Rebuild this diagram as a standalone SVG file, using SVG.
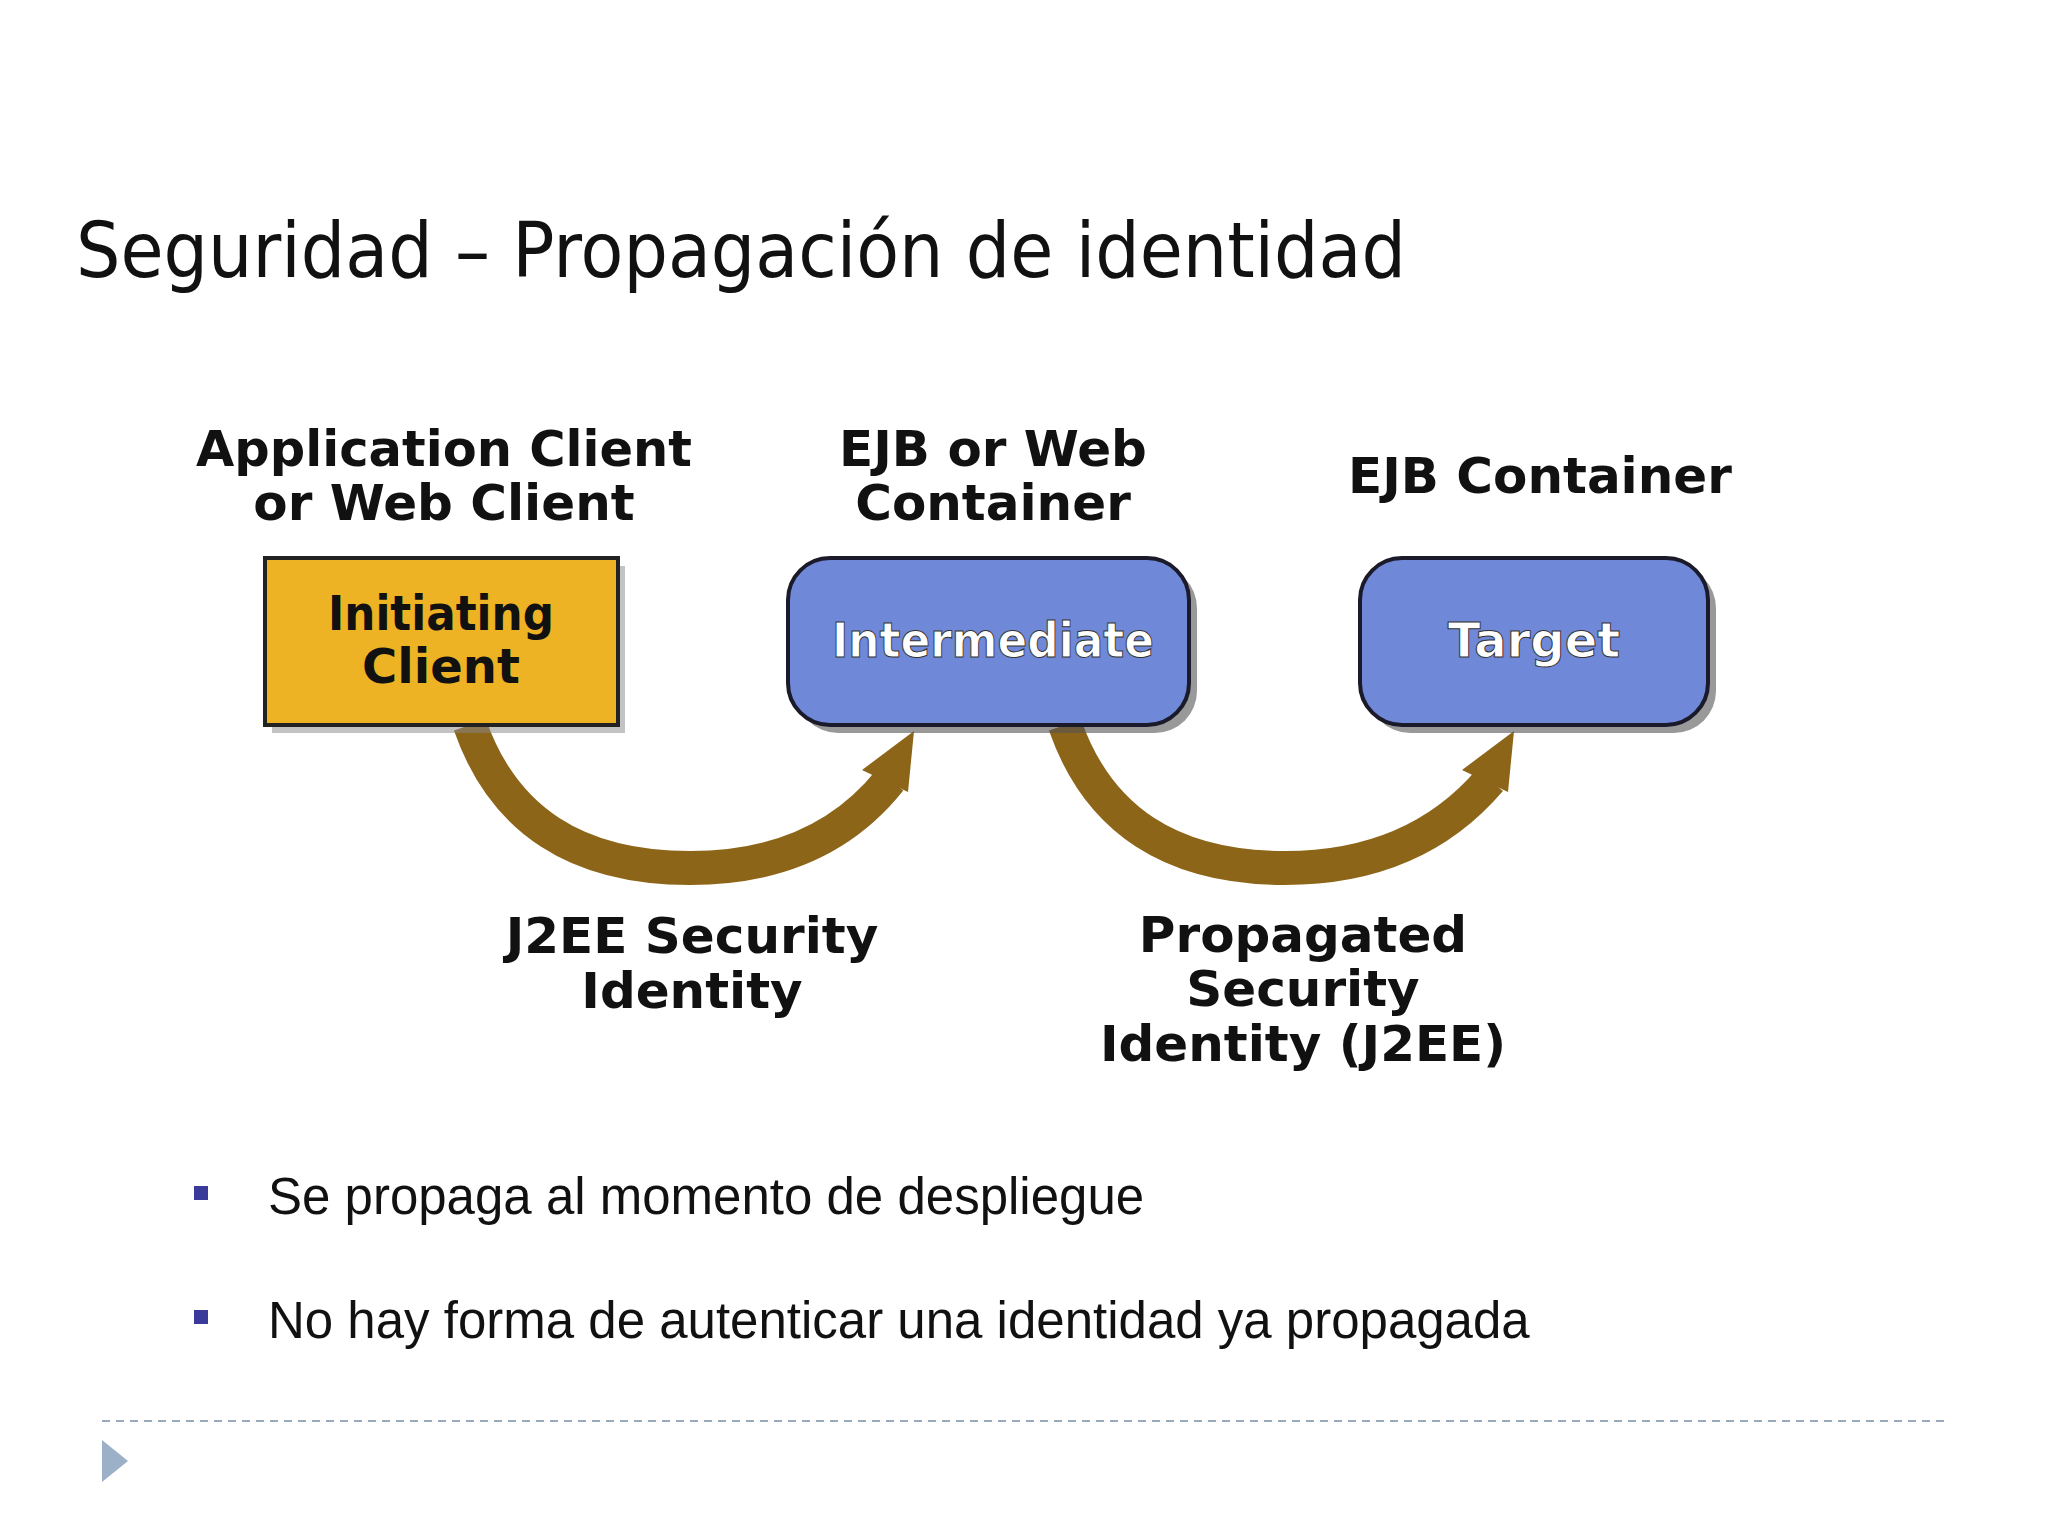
<svg xmlns="http://www.w3.org/2000/svg" width="2048" height="1536" viewBox="0 0 2048 1536">
<style>
.lbl{font-family:"DejaVu Sans",sans-serif;font-weight:bold;font-size:50px;fill:#111;text-anchor:middle}
.in{font-family:"DejaVu Sans",sans-serif;font-weight:bold;font-size:48px;text-anchor:middle}
.bul{font-family:"Liberation Sans",Arial,sans-serif;font-size:51px;fill:#111}
.arc{fill:none;stroke:#8C6518;stroke-width:34}
</style>
<rect width="2048" height="1536" fill="#fff"/>
<text x="76" y="277" font-family="DejaVu Sans,sans-serif" font-size="76" fill="#111" textLength="1330" lengthAdjust="spacingAndGlyphs">Seguridad – Propagación de identidad</text>
<text class="lbl" x="444" y="466" textLength="496" lengthAdjust="spacingAndGlyphs">Application Client</text>
<text class="lbl" x="444" y="520">or Web Client</text>
<text class="lbl" x="993" y="466">EJB or Web</text>
<text class="lbl" x="993" y="520">Container</text>
<text class="lbl" x="1540" y="493">EJB Container</text>
<g id="connectors">
<path class="arc" d="M470,725 Q520,868 690,868 Q820,868 890,780"/>
<polygon points="862,770 914,731 908,792" fill="#8C6518"/>
<path class="arc" d="M1065,725 Q1115,868 1285,868 Q1415,868 1490,780"/>
<polygon points="1462,770 1514,731 1508,792" fill="#8C6518"/>
</g>
<g id="initiating">
<rect x="272" y="566" width="353" height="167" fill="#888" opacity="0.5"/>
<rect x="265" y="558" width="353" height="167" fill="#EDB324" stroke="#222" stroke-width="4"/>
<text class="in" x="441" y="630" fill="#111" textLength="226" lengthAdjust="spacingAndGlyphs">Initiating</text>
<text class="in" x="441" y="683" fill="#111">Client</text>
</g>
<g id="intermediate">
<rect x="796" y="566" width="401" height="167" rx="42" fill="#555" opacity="0.6"/>
<rect x="788" y="558" width="401" height="167" rx="42" fill="#7088D8" stroke="#1a1a2a" stroke-width="4"/>
<text class="in" x="993" y="657" fill="#fff" stroke="#333" stroke-width="1" textLength="322" lengthAdjust="spacingAndGlyphs">Intermediate</text>
</g>
<g id="target">
<rect x="1368" y="566" width="348" height="167" rx="42" fill="#555" opacity="0.6"/>
<rect x="1360" y="558" width="348" height="167" rx="42" fill="#7088D8" stroke="#1a1a2a" stroke-width="4"/>
<text class="in" x="1534" y="657" fill="#fff" stroke="#333" stroke-width="1">Target</text>
</g>
<text class="lbl" x="692" y="953">J2EE Security</text>
<text class="lbl" x="692" y="1008">Identity</text>
<text class="lbl" x="1303" y="952">Propagated</text>
<text class="lbl" x="1303" y="1006">Security</text>
<text class="lbl" x="1303" y="1061">Identity (J2EE)</text>
<rect x="194" y="1186" width="14" height="14" fill="#3A3A9A"/>
<text class="bul" x="268" y="1214">Se propaga al momento de despliegue</text>
<rect x="194" y="1310" width="14" height="14" fill="#3A3A9A"/>
<text class="bul" x="268" y="1338">No hay forma de autenticar una identidad ya propagada</text>
<line x1="102" y1="1421" x2="1946" y2="1421" stroke="#9AAABB" stroke-width="2" stroke-dasharray="8,6"/>
<polygon points="102,1440 128,1461 102,1482" fill="#9CB0C8"/>
</svg>
